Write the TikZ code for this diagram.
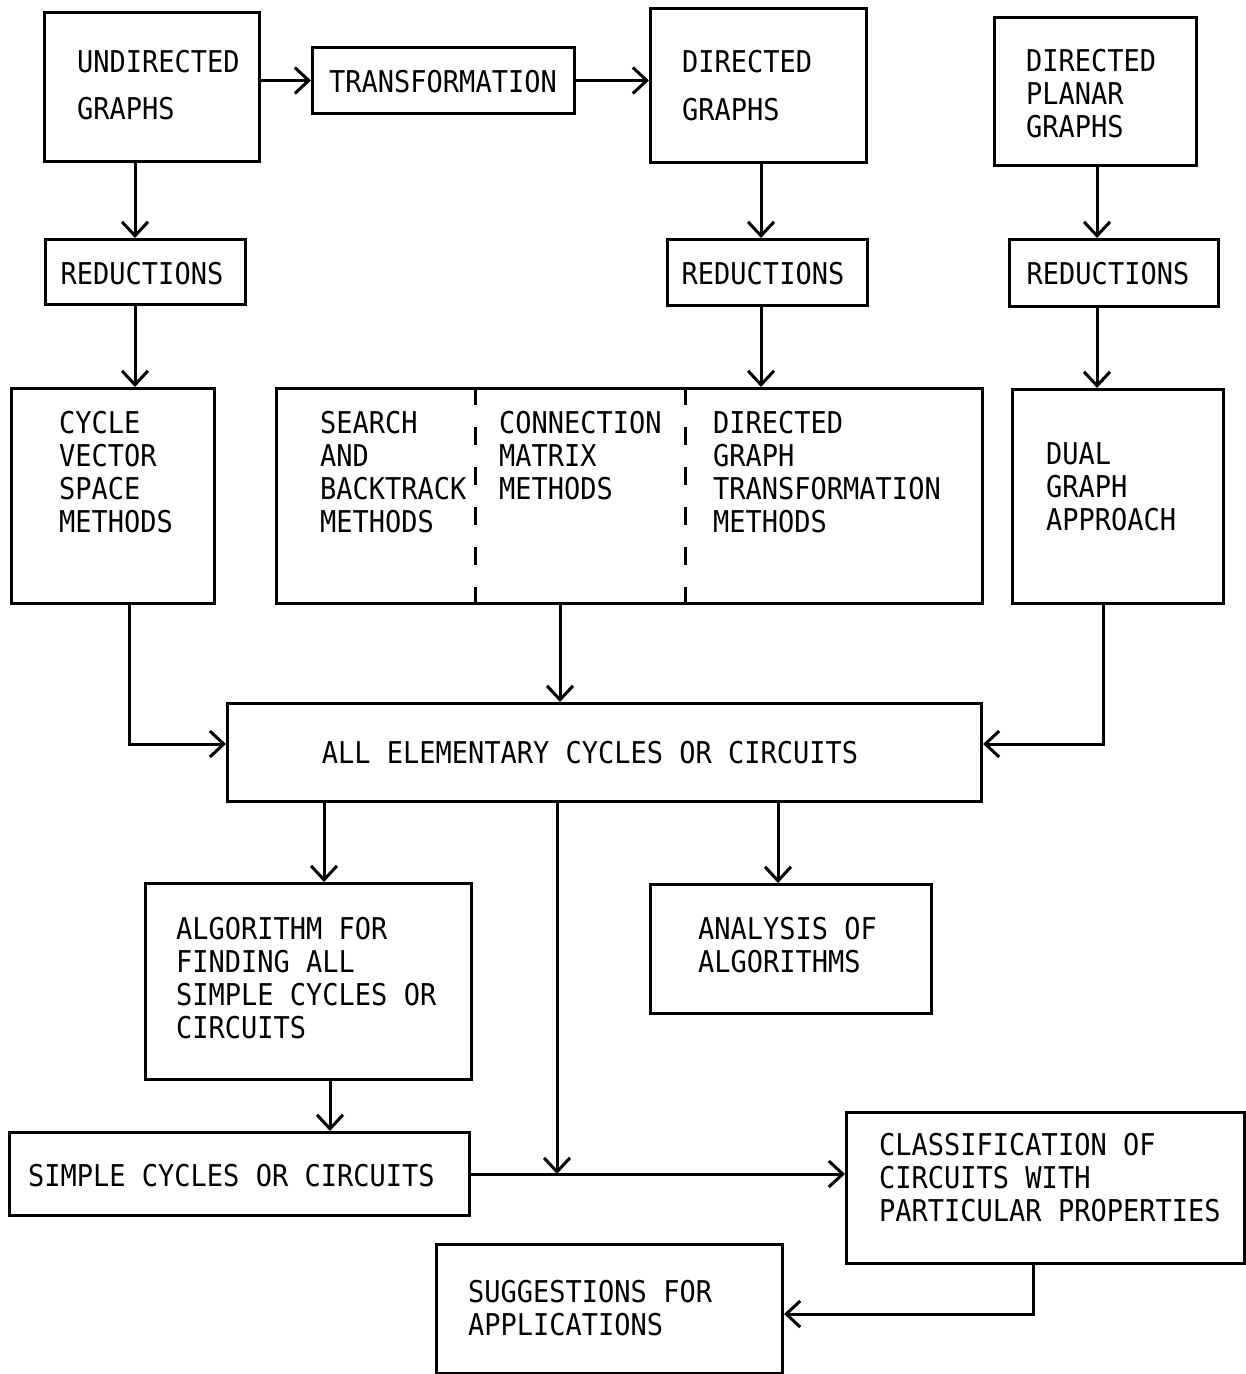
\documentclass[tikz,border=0pt]{standalone}
\usepackage{fontspec}
\newfontfamily\tw[FakeStretch=0.9]{DejaVu Sans Mono}
\usetikzlibrary{arrows.meta}
\begin{document}
\begin{tikzpicture}[x=1pt,y=-1pt,
  box/.style={draw, line width=3pt, inner sep=0pt, anchor=north west},
  txt/.style={font=\tw\fontsize{30}{33}\selectfont, inner sep=0pt, align=left, anchor=base west},
  ctxt/.style={font=\tw\fontsize{30}{33}\selectfont, inner sep=0pt, anchor=base},
  arr/.style={line width=3pt, -{Straight Barb[length=14pt,width=26pt]}},
  divider/.style={line width=3pt, dash pattern=on 18pt off 22pt}]
\useasboundingbox (0,0) rectangle (1246,1374);
\fill[white] (0,0) rectangle (1246,1374);

% boxes
\node[box, minimum width=215, minimum height=149] (ug) at (43,11) {};
\node[box, minimum width=262, minimum height=66] (tr) at (311,46) {};
\node[box, minimum width=216, minimum height=154] (dg) at (649,7) {};
\node[box, minimum width=202, minimum height=148] (pg) at (993,16) {};
\node[box, minimum width=200, minimum height=65] (r1) at (44,238) {};
\node[box, minimum width=200, minimum height=66] (r2) at (666,238) {};
\node[box, minimum width=209, minimum height=67] (r3) at (1008,238) {};
\node[box, minimum width=203, minimum height=215] (cv) at (10,387) {};
\node[box, minimum width=706, minimum height=215] (big) at (275,387) {};
\node[box, minimum width=211, minimum height=214] (du) at (1011,388) {};
\node[box, minimum width=754, minimum height=98] (all) at (226,702) {};
\node[box, minimum width=326, minimum height=196] (alg) at (144,882) {};
\node[box, minimum width=281, minimum height=129] (an) at (649,883) {};
\node[box, minimum width=460, minimum height=83] (sc) at (8,1131) {};
\node[box, minimum width=398, minimum height=151] (cl) at (845,1111) {};
\node[box, minimum width=346, minimum height=129] (sg) at (435,1243) {};

% dashed dividers
\coordinate (d1) at (475,0);
\coordinate (d2) at (685,0);
\draw[divider] (big.north -| d1) -- (big.south -| d1);
\draw[divider] (big.north -| d2) -- (big.south -| d2);

% texts (anchor = baseline of last line)
\node[txt] (tug) at (77,119) {UNDIRECTED\\[14pt]GRAPHS};
\node[ctxt] (ttr) at (443,92) {TRANSFORMATION};
\node[txt] (tdg) at (682,120) {DIRECTED\\[15pt]GRAPHS};
\node[txt] (tpg) at (1026,137) {DIRECTED\\PLANAR\\GRAPHS};
\node[ctxt] (tr1) at (142,284) {REDUCTIONS};
\node[ctxt] (tr2) at (763,284) {REDUCTIONS};
\node[ctxt] (tr3) at (1108,284) {REDUCTIONS};
\node[txt] (tcv) at (59,532) {CYCLE\\VECTOR\\SPACE\\METHODS};
\node[txt] (tsb) at (320,532) {SEARCH\\AND\\BACKTRACK\\METHODS};
\node[txt] (tcm) at (499,499) {CONNECTION\\MATRIX\\METHODS};
\node[txt] (tdt) at (713,532) {DIRECTED\\GRAPH\\TRANSFORMATION\\METHODS};
\node[txt] (tdu) at (1046,530) {DUAL\\GRAPH\\APPROACH};
\node[ctxt] (tall) at (590,763) {ALL ELEMENTARY CYCLES OR CIRCUITS};
\node[txt] (talg) at (176,1038) {ALGORITHM FOR\\FINDING ALL\\SIMPLE CYCLES OR\\CIRCUITS};
\node[txt] (tan) at (698,972) {ANALYSIS OF\\ALGORITHMS};
\node[txt] (tsc) at (28,1186) {SIMPLE CYCLES OR CIRCUITS};
\node[txt] (tcl) at (879,1221) {CLASSIFICATION OF\\CIRCUITS WITH\\PARTICULAR PROPERTIES};
\node[txt] (tsg) at (468,1335) {SUGGESTIONS FOR\\APPLICATIONS};

% column coordinates
\coordinate (x135) at (135,0);
\coordinate (x761) at (761,0);
\coordinate (x1097) at (1097,0);
\coordinate (x129) at (129,0);
\coordinate (x560) at (560,0);
\coordinate (x1103) at (1103,0);
\coordinate (x324) at (324,0);
\coordinate (x778) at (778,0);
\coordinate (x557) at (557,0);
\coordinate (x330) at (330,0);
\coordinate (x1033) at (1033,0);
\coordinate (y744) at (0,744);
\coordinate (y1314) at (0,1314);

% connectors
\draw[arr] (tr.west -| ug.east) -- (tr.west);
\draw[arr] (tr.east) -- (tr.east -| dg.west);
\draw[arr] (ug.south -| x135) -- (r1.north -| x135);
\draw[arr] (r1.south -| x135) -- (cv.north -| x135);
\draw[arr] (dg.south -| x761) -- (r2.north -| x761);
\draw[arr] (r2.south -| x761) -- (big.north -| x761);
\draw[arr] (pg.south -| x1097) -- (r3.north -| x1097);
\draw[arr] (r3.south -| x1097) -- (du.north -| x1097);
\draw[arr] (cv.south -| x129) |- (all.west |- y744);
\draw[arr] (big.south -| x560) -- (all.north -| x560);
\draw[arr] (du.south -| x1103) |- (all.east |- y744);
\draw[arr] (all.south -| x324) -- (alg.north -| x324);
\draw[arr] (all.south -| x778) -- (an.north -| x778);
\draw[arr] (all.south -| x557) -- (sc.east -| x557);
\draw[arr] (alg.south -| x330) -- (sc.north -| x330);
\draw[arr] (sc.east) -- (sc.east -| cl.west);
\draw[arr] (cl.south -| x1033) |- (sg.east |- y1314);
\end{tikzpicture}
\end{document}
